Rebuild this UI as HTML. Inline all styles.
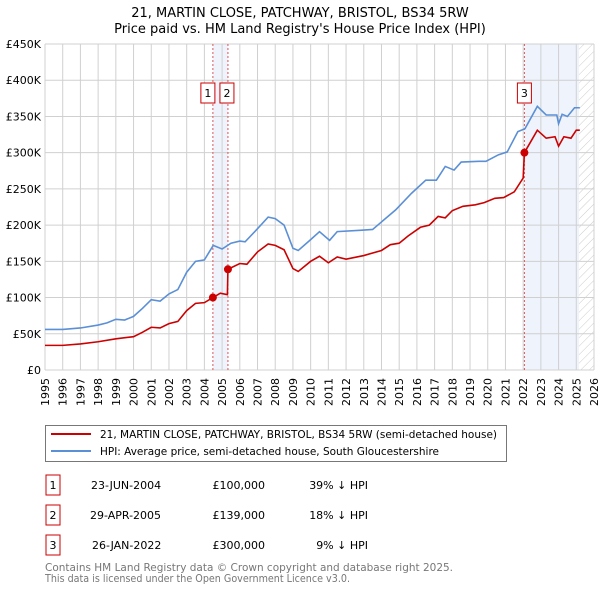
<!DOCTYPE html>
<html><head><meta charset="utf-8"><style>
body{margin:0;background:#fff;font-family:"Liberation Sans","DejaVu Sans",sans-serif;}
svg text{font-family:"DejaVu Sans","Liberation Sans",sans-serif;}
</style></head><body>
<svg id="chart" width="600" height="590" xmlns="http://www.w3.org/2000/svg">
<defs><pattern id="hatch" width="6" height="6" patternUnits="userSpaceOnUse" patternTransform="rotate(45)"><line x1="0" y1="0" x2="0" y2="6" stroke="#ccc" stroke-width="1"/></pattern></defs>
<text x="300" y="17" text-anchor="middle" font-size="13">21, MARTIN CLOSE, PATCHWAY, BRISTOL, BS34 5RW</text>
<text x="300" y="33" text-anchor="middle" font-size="13">Price paid vs. HM Land Registry's House Price Index (HPI)</text>
<g id="plot"></g>
<rect x="45.5" y="425.5" width="461" height="36" fill="#fff" stroke="#777"/>
<line x1="51" y1="434" x2="91" y2="434" stroke="#cc0000" stroke-width="2"/>
<text x="100" y="438" font-size="11" textLength="397" lengthAdjust="spacingAndGlyphs">21, MARTIN CLOSE, PATCHWAY, BRISTOL, BS34 5RW (semi-detached house)</text>
<line x1="51" y1="451" x2="91" y2="451" stroke="#5b8fd6" stroke-width="2"/>
<text x="100" y="455" font-size="11" textLength="339" lengthAdjust="spacingAndGlyphs">HPI: Average price, semi-detached house, South Gloucestershire</text>
<g font-size="11">
<rect x="46" y="475" width="14" height="20" fill="#fff" stroke="#cc0000"/><text x="53" y="489" text-anchor="middle">1</text>
<text x="91" y="489">23-JUN-2004</text><text x="265" y="489" text-anchor="end">£100,000</text><text x="368" y="489" text-anchor="end">39% ↓ HPI</text>
<rect x="46" y="505" width="14" height="20" fill="#fff" stroke="#cc0000"/><text x="53" y="519" text-anchor="middle">2</text>
<text x="90" y="519">29-APR-2005</text><text x="265" y="519" text-anchor="end">£139,000</text><text x="368" y="519" text-anchor="end">18% ↓ HPI</text>
<rect x="46" y="535" width="14" height="20" fill="#fff" stroke="#cc0000"/><text x="53" y="549" text-anchor="middle">3</text>
<text x="92" y="549">26-JAN-2022</text><text x="265" y="549" text-anchor="end">£300,000</text><text x="368" y="549" text-anchor="end">9% ↓ HPI</text>
</g>
<text x="45" y="571" font-size="11" fill="#777" textLength="408" lengthAdjust="spacingAndGlyphs">Contains HM Land Registry data © Crown copyright and database right 2025.</text>
<text x="45" y="582" font-size="11" fill="#777" textLength="305" lengthAdjust="spacingAndGlyphs">This data is licensed under the Open Government Licence v3.0.</text>
</svg>
<script>
const yTicks=[0,50,100,150,200,250,300,350,400,450];
const years=[1995,1996,1997,1998,1999,2000,2001,2002,2003,2004,2005,2006,2007,2008,2009,2010,2011,2012,2013,2014,2015,2016,2017,2018,2019,2020,2021,2022,2023,2024,2025,2026];
const hpiT=[1995,1996,1997,1998,1998.5,1999,1999.5,2000,2000.5,2001,2001.5,2002,2002.5,2003,2003.5,2004,2004.5,2005,2005.5,2006,2006.3,2007,2007.6,2008,2008.5,2009,2009.3,2010,2010.5,2011.07,2011.5,2012.9,2013.5,2014.8,2015.7,2016.5,2017.1,2017.6,2018.1,2018.5,2019.5,2019.9,2020.6,2021.1,2021.7,2022.1,2022.8,2023.3,2023.9,2024.0,2024.2,2024.5,2024.9,2025.2];
const hpiV=[56,56,58,62,65,70,69,74,85,97,95,105,111,135,150,152,172,167,175,178,177,195,211,209,200,168,165,180,191,179,191,193,194,221,244,262,262,281,276,287,288,288,297,301,329,333,364,352,352,340,353,350,362,362];
const ppT=[1995,1996,1997,1998,1999,2000,2000.5,2001,2001.5,2002,2002.5,2003,2003.5,2004,2004.48,2004.9,2005.3,2005.33,2006,2006.4,2007,2007.6,2008,2008.5,2009,2009.3,2010,2010.5,2011,2011.5,2012,2013,2014,2014.5,2015,2015.5,2016.2,2016.7,2017.2,2017.6,2018,2018.6,2019.3,2019.8,2020.4,2020.9,2021.5,2022.0,2022.07,2022.8,2023.3,2023.8,2024.0,2024.3,2024.7,2025.0,2025.2];
const ppV=[34,34,36,39,43,46,52,59,58,64,67,82,92,93,100,106,104,139,147,146,163,174,172,166,140,136,150,157,148,156,153,158,165,173,175,185,197,200,212,210,220,226,228,231,237,238,246,265,300,331,320,322,309,322,320,331,331];
const saleT=[2004.48,2005.33,2022.07];
const saleV=[100,139,300];
const saleLabels=["1","2","3"];
const labelShift=[-5,-1,0];
const X0=45,X1=594,Y0=370,Y1=44;
const xs=t=>X0+(t-1995)/(2026-1995)*(X1-X0);
const ys=v=>Y0-v/450*(Y0-Y1);
const NS="http://www.w3.org/2000/svg";
const g=document.getElementById('plot');
function mk(tag,a){const e=document.createElementNS(NS,tag);for(const k in a)e.setAttribute(k,a[k]);g.appendChild(e);return e;}
let r=mk('rect',{x:xs(saleT[0]),y:Y1,width:xs(saleT[1])-xs(saleT[0]),height:Y0-Y1,fill:'#eef3fc'});


r=mk('rect',{x:xs(saleT[2]),y:Y1,width:xs(2025.15)-xs(saleT[2]),height:Y0-Y1,fill:'#eef3fc'});


r=mk('rect',{x:xs(2025.15),y:Y1,width:X1-xs(2025.15),height:Y0-Y1,fill:'url(#hatch)'});


years.forEach(yr=>{const x=xs(yr);
 const l=mk('line',{x1:x,x2:x,y1:Y1,y2:Y0,stroke:'#d0d0d0'});
 
 
 const t=mk('text',{x:0,y:0,'font-size':11,'text-anchor':'end',transform:`translate(${x+4},${Y0+8}) rotate(-90)`});t.textContent=yr;
 
 
});
yTicks.forEach(v=>{const y=ys(v);
 const l=mk('line',{x1:X0,x2:X1,y1:y,y2:y,stroke:'#d0d0d0'});
 
 
 const t=mk('text',{x:X0-4,y:y+4,'font-size':11,'text-anchor':'end'});t.textContent=v===0?'£0':'£'+v+'K';
 
 
});
saleT.forEach((t,i)=>{const x=xs(t);
 const l=mk('line',{x1:x,x2:x,y1:Y1,y2:Y0,stroke:'#e05555','stroke-dasharray':'2,2'});
 
 
 const b=mk('rect',{x:x-7+labelShift[i],y:83,width:14,height:20,fill:'#fff',stroke:'#cc0000'});
 
 
 const tt=mk('text',{x:x+labelShift[i],y:97,'font-size':11,'text-anchor':'middle'});tt.textContent=saleLabels[i];
 
 
});
let hp=mk('polyline',{points:hpiT.map((t,i)=>xs(t)+','+ys(hpiV[i])).join(' '),fill:'none',stroke:'#5b8fd6','stroke-width':1.6});


let pp=mk('polyline',{points:ppT.map((t,i)=>xs(t)+','+ys(ppV[i])).join(' '),fill:'none',stroke:'#cc0000','stroke-width':1.6});


saleT.forEach((t,i)=>{const c=mk('circle',{cx:xs(t),cy:ys(saleV[i]),r:4,fill:'#cc0000'});
 
 
});
</script>
</body></html>
